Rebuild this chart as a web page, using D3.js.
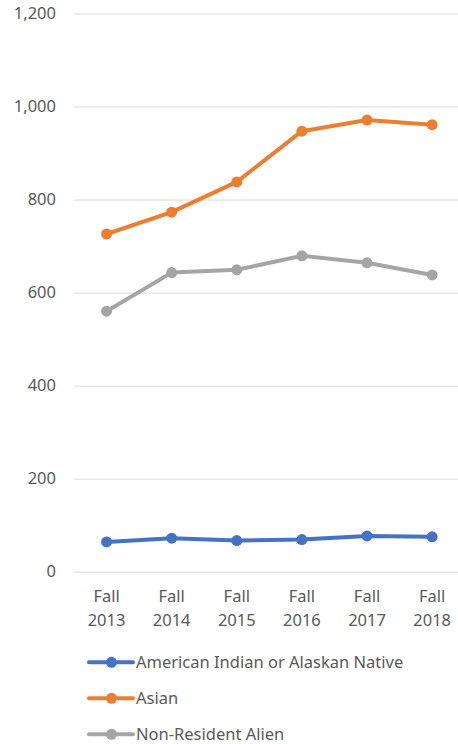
<!DOCTYPE html>
<html>
<head>
<meta charset="utf-8">
<script src="https://cdn.jsdelivr.net/npm/d3@7"></script>
<style>
  html, body { margin: 0; padding: 0; background: #fff; overflow: hidden; }
  svg { display: block; font-family: 'Noto Sans', 'Open Sans', sans-serif; }
</style>
</head>
<body>
<div id="chart"></div>
<script>
const categories = ['Fall 2013', 'Fall 2014', 'Fall 2015', 'Fall 2016', 'Fall 2017', 'Fall 2018']
const yTicks = [0, 200, 400, 600, 800, 1000, 1200]

const seriesNames = ['American Indian or Alaskan Native', 'Asian', 'Non-Resident Alien']
const seriesColors = ['#4472C4', '#ED7D31', '#A5A5A5']
const americanIndian = [64, 72, 67, 69, 77, 75]
const asian = [726, 773, 838, 947, 971, 961]
const nonResident = [560, 643, 649, 679, 664, 638]
const seriesValues = [americanIndian, asian, nonResident]

const width = 458
const height = 744
const plotLeft = 74
const plotRight = 464.7
const plotTop = 13.5
const plotBottom = 571.7
const fontSize = 16.5

const svg = d3.select('#chart')
  .append('svg')
  .attr('width', width)
  .attr('height', height)

const x = d3.scalePoint()
  .domain(categories)
  .range([plotLeft, plotRight])
  .padding(0.5)

const y = d3.scaleLinear()
  .domain([0, 1200])
  .range([plotBottom, plotTop])

// gridlines + y labels
const yAxis = svg.append('g')
  .attr('transform', `translate(${plotLeft},0)`)
  .call(d3.axisLeft(y)
    .tickValues(yTicks)
    .tickSize(-(plotRight - plotLeft))
    .tickPadding(18)
    .tickFormat(d3.format(',')))
yAxis.select('.domain').remove()
yAxis.selectAll('.tick line')
  .attr('stroke', '#D9D9D9')
  .attr('stroke-width', 1)
yAxis.selectAll('.tick text')
  .attr('fill', '#595959')
  .attr('font-size', fontSize)
  .attr('font-family', "'Noto Sans', sans-serif")

// x labels on two lines
const xLabels = svg.append('g')
  .selectAll('text')
  .data(categories)
  .enter()
  .append('text')
  .attr('text-anchor', 'middle')
  .attr('fill', '#595959')
  .attr('font-size', fontSize)
xLabels.each(function(d) {
  const parts = d.split(' ')
  const t = d3.select(this)
  parts.forEach((p, i) => {
    t.append('tspan')
      .attr('x', x(d))
      .attr('y', 601.5 + i * 24)
      .text(p)
  })
})

const line = d3.line()
  .x((d, i) => x(categories[i]))
  .y(d => y(d))

seriesValues.forEach((vals, s) => {
  const g = svg.append('g')
  g.append('path')
    .datum(vals)
    .attr('d', line)
    .attr('fill', 'none')
    .attr('stroke', seriesColors[s])
    .attr('stroke-width', 4)
    .attr('stroke-linejoin', 'round')
  g.selectAll('circle')
    .data(vals)
    .enter()
    .append('circle')
    .attr('cx', (d, i) => x(categories[i]))
    .attr('cy', d => y(d))
    .attr('r', 5.5)
    .attr('fill', seriesColors[s])
})

// legend
const legend = svg.append('g')
  .selectAll('g')
  .data(seriesNames)
  .enter()
  .append('g')
  .attr('transform', (d, i) => `translate(0,${662.3 + i * 36})`)
legend.append('line')
  .attr('x1', 89)
  .attr('x2', 133)
  .attr('stroke', (d, i) => seriesColors[i])
  .attr('stroke-width', 4)
  .attr('stroke-linecap', 'round')
legend.append('circle')
  .attr('cx', 111.5)
  .attr('r', 5.5)
  .attr('fill', (d, i) => seriesColors[i])
legend.append('text')
  .attr('x', 136)
  .attr('y', 5.7)
  .attr('fill', '#595959')
  .attr('font-size', fontSize)
  .text(d => d)
</script>
</body>
</html>
